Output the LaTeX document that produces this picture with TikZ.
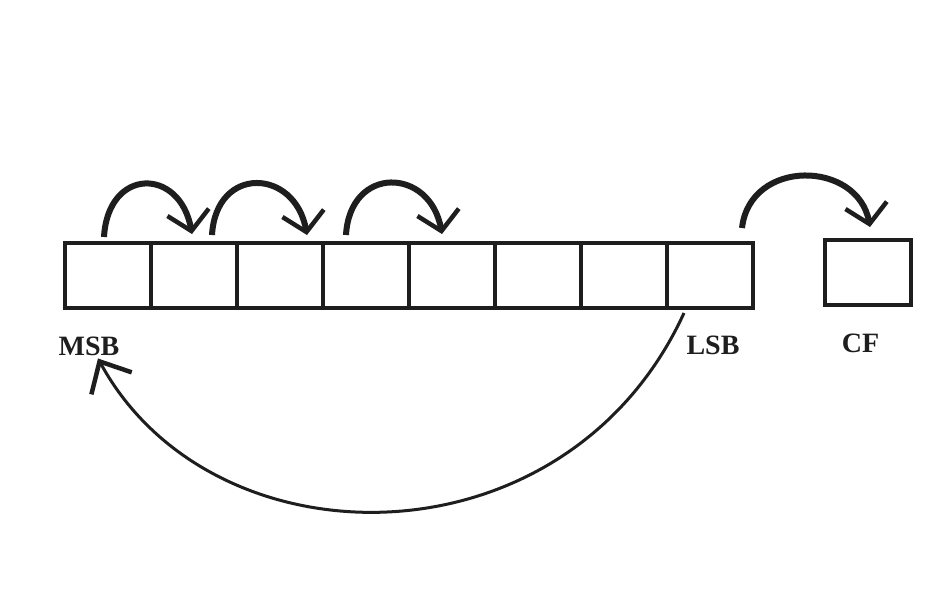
\documentclass[tikz,border=0pt]{standalone}
\usepackage{fontspec}
\setmainfont{Liberation Serif}
\usetikzlibrary{arrows.meta}
\definecolor{ink}{HTML}{1E1E1E}
\tikzset{
  cell/.style={draw=ink, line width=4pt, minimum width=86pt, minimum height=65pt, inner sep=0pt, outer sep=0pt},
  lbl/.style={anchor=base, inner sep=0pt, font=\fontsize{28}{30}\selectfont\bfseries, text=ink},
  toparc/.style={draw=ink, line width=6pt, -{Straight Barb[length=19pt,width=42pt,line width=4.5pt]}},
  backarc/.style={draw=ink, line width=3pt, -{Straight Barb[length=25pt,width=46pt,line width=4.5pt]}}
}
\begin{document}
\begin{tikzpicture}[x=1pt,y=-1pt]
\useasboundingbox[fill=white] (0,0) rectangle (944,600);
% register cells
\node[cell] (c1) at (108,275.5) {};
\node[cell] (c2) at (194,275.5) {};
\node[cell] (c3) at (280,275.5) {};
\node[cell] (c4) at (366,275.5) {};
\node[cell] (c5) at (452,275.5) {};
\node[cell] (c6) at (538,275.5) {};
\node[cell] (c7) at (624,275.5) {};
\node[cell] (c8) at (709.5,275.5) {};
\node[cell] (cf) at (868,272.5) {};
% labels
\node[lbl] (msb) at (89,355) {MSB};
\node[lbl] (lsb) at (713,354) {LSB};
\node[lbl] (cfl) at (860.5,352) {CF};
% shift arrows on top
\draw[toparc] ([xshift=-4pt,yshift=6pt]c1.north) .. controls +(4,-70) and +(-12,-67) .. ([xshift=-2pt,yshift=9pt]c2.north);
\draw[toparc] ([xshift=18pt,yshift=8pt]c2.north) .. controls +(4,-70) and +(-12,-67) .. ([xshift=27pt,yshift=8pt]c3.north);
\draw[toparc] ([xshift=-20pt,yshift=8pt]c4.north) .. controls +(4,-70) and +(-12,-67) .. ([xshift=-10pt,yshift=9pt]c5.north);
\draw[toparc] ([xshift=32.5pt,yshift=15pt]c8.north) .. controls +(8,-70) and +(-12,-67) .. ([xshift=2pt,yshift=13pt]cf.north);
% rotate-back arrow
\draw[backarc] ([xshift=-25.5pt,yshift=-5pt]c8.south) .. controls +(-118,257) and +(115,211) .. ([xshift=9pt,yshift=-3pt]msb.south);
\end{tikzpicture}
\end{document}
